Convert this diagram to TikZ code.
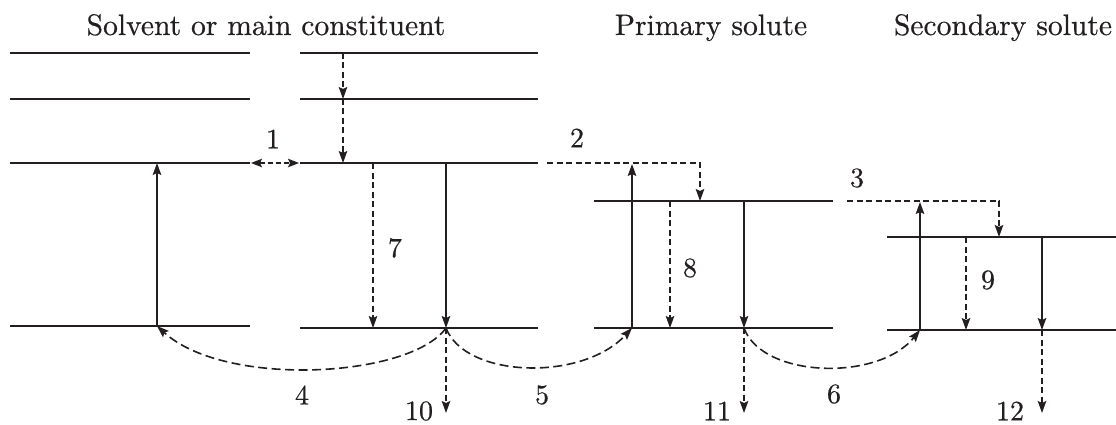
\documentclass[tikz,border=0pt]{standalone}
\usepackage{fontspec}
\usetikzlibrary{arrows.meta}
\newfontfamily\lmf{lmroman10-regular.otf}[FakeBold=0.5]
\definecolor{ink}{HTML}{231F20}
\begin{document}
\begin{tikzpicture}[x=1pt,y=-1pt,
  level/.style={line width=2pt,draw=ink},
  solidarrow/.style={line width=1.6pt,draw=ink,-{Stealth[length=12pt,width=8.5pt,inset=2pt]}},
  dasharrow/.style={solidarrow,dash pattern=on 6pt off 3.5pt},
  curvearrow/.style={solidarrow,dash pattern=on 9pt off 4.5pt},
  twoway/.style={line width=1.6pt,draw=ink,dash pattern=on 5pt off 3pt,{Stealth[length=11pt,width=8.5pt,inset=2pt]}-{Stealth[length=11pt,width=8.5pt,inset=2pt]}},
  lbl/.style={font=\lmf\fontsize{28}{30}\selectfont,inner sep=0pt,text=ink},
  ttl/.style={font=\lmf\fontsize{29.6}{32}\selectfont,inner sep=0pt,text=ink,anchor=base}]
\useasboundingbox (0,0) rectangle (1116,425);
% titles
\node[ttl] (t1) at (266,35) {Solvent or main constituent};
\node[ttl] (t2) at (711,35) {Primary solute};
\node[ttl] (t3) at (1003,35) {Secondary solute};
% level end points
\coordinate (a1l) at (10,53);  \coordinate (a1r) at (250,53);
\coordinate (a2l) at (10,99);  \coordinate (a2r) at (250,99);
\coordinate (a3l) at (10,163); \coordinate (a3r) at (250,163);
\coordinate (a0l) at (10,326); \coordinate (a0r) at (250,326);
\coordinate (b1l) at (300,53);  \coordinate (b1r) at (538,53);
\coordinate (b2l) at (300,99);  \coordinate (b2r) at (538,99);
\coordinate (b3l) at (300,163); \coordinate (b3r) at (538,163);
\coordinate (b0l) at (300,328); \coordinate (b0r) at (538,328);
\coordinate (p1l) at (594,201); \coordinate (p1r) at (833,201);
\coordinate (p0l) at (594,328); \coordinate (p0r) at (833,328);
\coordinate (s1l) at (887,237); \coordinate (s1r) at (1116,237);
\coordinate (s0l) at (887,330); \coordinate (s0r) at (1116,330);
\foreach \n in {a1,a2,a3,a0,b1,b2,b3,b0,p1,p0,s1,s0}
  \draw[level] (\n l) -- (\n r);
% transition points
\coordinate (aup0) at (157,326); \coordinate (aup1) at (157,163);
\coordinate (bd1) at (343,53); \coordinate (bd2) at (343,99); \coordinate (bd3) at (343,163);
\coordinate (b7t) at (373,163); \coordinate (b7b) at (373,328);
\coordinate (bst) at (446,163); \coordinate (bsb) at (446,328);
\coordinate (e1l) at (251,163); \coordinate (e1r) at (299,163);
\coordinate (e2a) at (547,163); \coordinate (e2b) at (700,163); \coordinate (e2c) at (700,201);
\coordinate (pup0) at (632,328); \coordinate (pup1) at (632,164);
\coordinate (p8t) at (670,201); \coordinate (p8b) at (670,328);
\coordinate (pst) at (744,201); \coordinate (psb) at (744,328);
\coordinate (e3a) at (847,201); \coordinate (e3b) at (999,201); \coordinate (e3c) at (999,237);
\coordinate (sup0) at (920,330); \coordinate (sup1) at (920,202);
\coordinate (s9t) at (966,237); \coordinate (s9b) at (966,330);
\coordinate (sst) at (1042,237); \coordinate (ssb) at (1042,330);
\coordinate (x10) at (446,413); \coordinate (x11) at (744,413); \coordinate (x12) at (1042,413);
% arrows
\draw[solidarrow] (aup0) -- (aup1);
\draw[twoway] (e1l) -- (e1r);
\draw[dasharrow] (bd1) -- (bd2);
\draw[dasharrow] (bd2) -- (bd3);
\draw[dasharrow] (b7t) -- (b7b);
\draw[solidarrow] (bst) -- (bsb);
\draw[dasharrow] (e2a) -- (e2b) -- (e2c);
\draw[solidarrow] (pup0) -- (pup1);
\draw[dasharrow] (p8t) -- (p8b);
\draw[solidarrow] (pst) -- (psb);
\draw[dasharrow] (e3a) -- (e3b) -- (e3c);
\draw[solidarrow] (sup0) -- (sup1);
\draw[dasharrow] (s9t) -- (s9b);
\draw[solidarrow] (sst) -- (ssb);
\draw[dasharrow] (bsb) -- (x10);
\draw[dasharrow] (psb) -- (x11);
\draw[dasharrow] (ssb) -- (x12);
\draw[curvearrow] (bsb) .. controls (410,378) and (225,388) .. (aup0);
\draw[curvearrow] (bsb) .. controls (465,378) and (582,382) .. (pup0);
\draw[curvearrow] (psb) .. controls (762,378) and (878,382) .. (sup0);
% labels
\node[lbl] (n1) at (273,139) {1};
\node[lbl] (n2) at (577,138) {2};
\node[lbl] (n3) at (857,178) {3};
\node[lbl] (n7) at (395,248) {7};
\node[lbl] (n8) at (690,268) {8};
\node[lbl] (n9) at (988,280) {9};
\node[lbl] (n4) at (302,395) {4};
\node[lbl] (n5) at (542,395) {5};
\node[lbl] (n6) at (834,394) {6};
\node[lbl] (n10) at (419,411) {10};
\node[lbl] (n11) at (717,411) {11};
\node[lbl] (n12) at (1010,411) {12};
\end{tikzpicture}
\end{document}
